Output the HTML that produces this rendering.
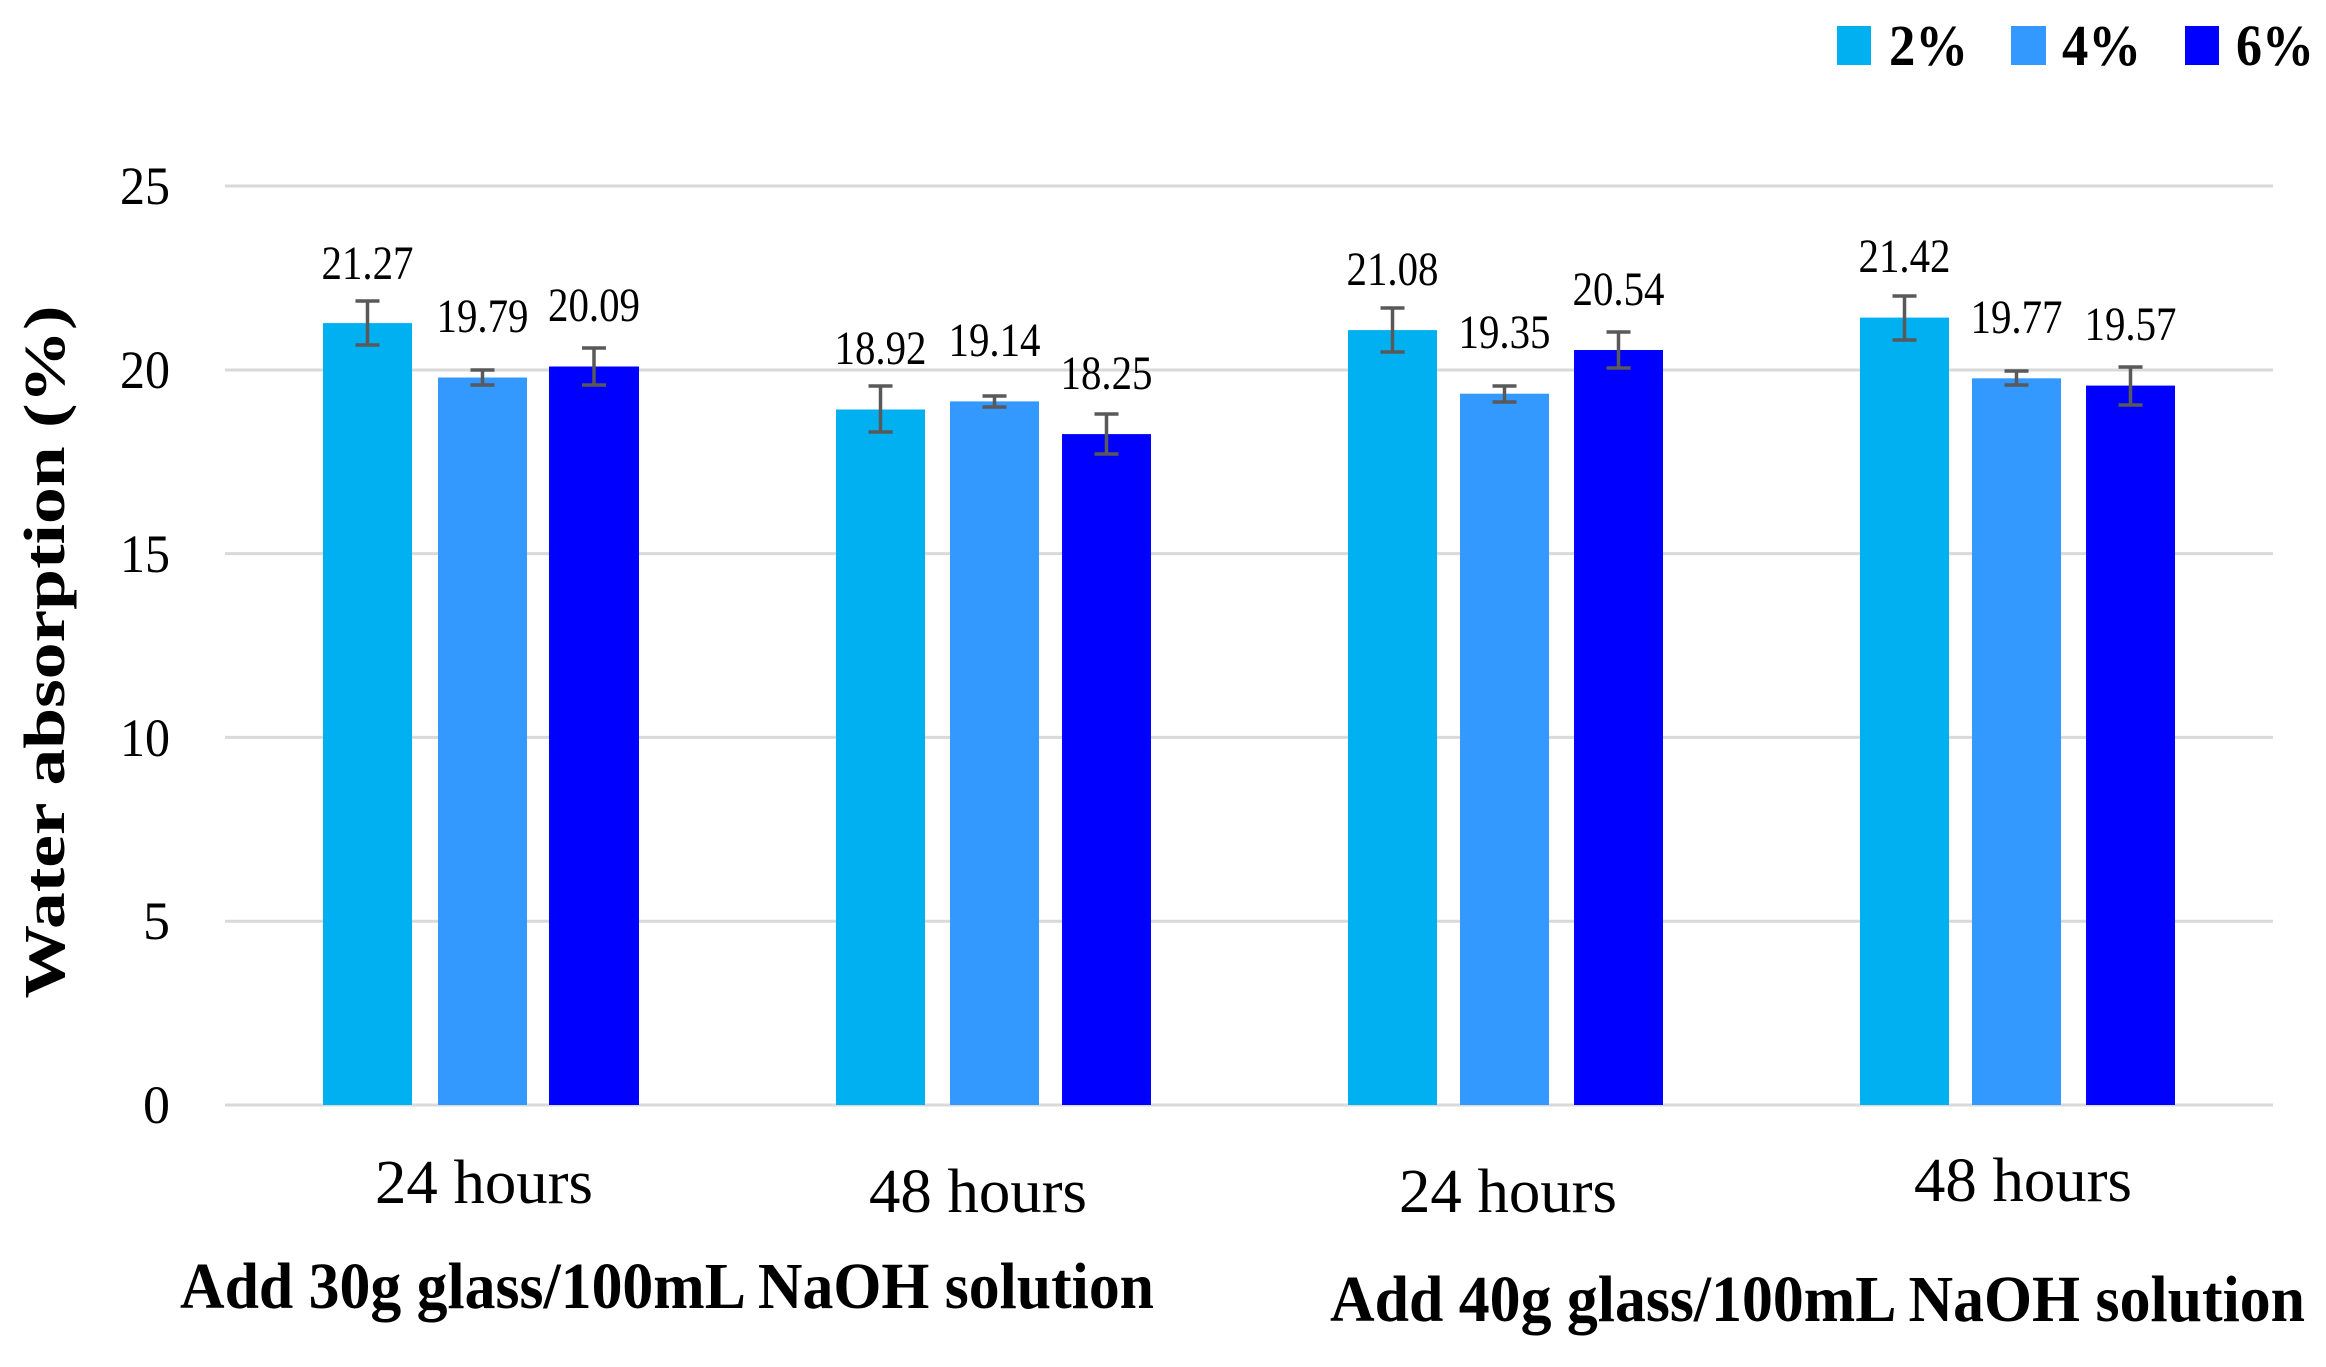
<!DOCTYPE html>
<html><head><meta charset="utf-8"><style>html,body{margin:0;padding:0;background:#fff}svg{display:block}</style></head>
<body>
<svg width="2326" height="1367" xmlns="http://www.w3.org/2000/svg" font-family="Liberation Serif, serif">
<g stroke="#d9d9d9" stroke-width="3">
<line x1="225" x2="2273" y1="186" y2="186"/>
<line x1="225" x2="2273" y1="370" y2="370"/>
<line x1="225" x2="2273" y1="553.6" y2="553.6"/>
<line x1="225" x2="2273" y1="737.4" y2="737.4"/>
<line x1="225" x2="2273" y1="921.2" y2="921.2"/>
<line x1="225" x2="2273" y1="1105" y2="1105"/>
</g>
<g font-size="54" fill="#000" text-anchor="end">
<text x="170" y="204" textLength="50" lengthAdjust="spacingAndGlyphs">25</text>
<text x="170" y="388" textLength="50" lengthAdjust="spacingAndGlyphs">20</text>
<text x="170" y="572" textLength="50" lengthAdjust="spacingAndGlyphs">15</text>
<text x="170" y="756" textLength="50" lengthAdjust="spacingAndGlyphs">10</text>
<text x="170" y="939">5</text>
<text x="170" y="1123">0</text>
</g>
<text transform="translate(64,652) rotate(-90)" text-anchor="middle" font-size="58" font-weight="bold" textLength="693" lengthAdjust="spacingAndGlyphs">Water  absorption (%)</text>
<g font-size="62" text-anchor="middle">
<text x="484" y="1203" textLength="218" lengthAdjust="spacingAndGlyphs">24 hours</text>
<text x="978" y="1212" textLength="218" lengthAdjust="spacingAndGlyphs">48 hours</text>
<text x="1508" y="1212" textLength="218" lengthAdjust="spacingAndGlyphs">24 hours</text>
<text x="2023" y="1201" textLength="218" lengthAdjust="spacingAndGlyphs">48 hours</text>
</g>
<g font-size="66" font-weight="bold">
<text x="180" y="1308" textLength="974" lengthAdjust="spacingAndGlyphs">Add 30g glass/100mL NaOH solution</text>
<text x="1330" y="1321" textLength="975" lengthAdjust="spacingAndGlyphs">Add 40g glass/100mL NaOH solution</text>
</g>
<g font-size="58" font-weight="bold">
<rect x="1837" y="26" width="34" height="39" fill="#00b0f0"/>
<text x="1889" y="65" textLength="79" lengthAdjust="spacingAndGlyphs">2%</text>
<rect x="2011" y="26" width="35" height="39" fill="#3399ff"/>
<text x="2062" y="65" textLength="79" lengthAdjust="spacingAndGlyphs">4%</text>
<rect x="2185" y="26" width="34" height="39" fill="#0000ff"/>
<text x="2236" y="65" textLength="78" lengthAdjust="spacingAndGlyphs">6%</text>
</g>
<g>
<rect x="323" y="323.1" width="89" height="781.9" fill="#00b0f0"/>
<rect x="438" y="377.5" width="89" height="727.5" fill="#3399ff"/>
<rect x="549" y="366.5" width="90" height="738.5" fill="#0000ff"/>
<rect x="836" y="409.5" width="89" height="695.5" fill="#00b0f0"/>
<rect x="950" y="401.4" width="89" height="703.6" fill="#3399ff"/>
<rect x="1062" y="434.1" width="89" height="670.9" fill="#0000ff"/>
<rect x="1348" y="330.1" width="89" height="774.9" fill="#00b0f0"/>
<rect x="1460" y="393.7" width="89" height="711.3" fill="#3399ff"/>
<rect x="1574" y="350.0" width="89" height="755.0" fill="#0000ff"/>
<rect x="1860" y="317.6" width="89" height="787.4" fill="#00b0f0"/>
<rect x="1972" y="378.3" width="89" height="726.7" fill="#3399ff"/>
<rect x="2086" y="385.6" width="89" height="719.4" fill="#0000ff"/>
</g>
<g stroke="#595959" stroke-width="3.5" fill="none">
<path d="M367.5 301v44M355.5 301h24M355.5 345h24"/>
<path d="M482.5 370v15M470.5 370h24M470.5 385h24"/>
<path d="M594 348v37M582 348h24M582 385h24"/>
<path d="M880.5 386v46M868.5 386h24M868.5 432h24"/>
<path d="M994.5 396v11M982.5 396h24M982.5 407h24"/>
<path d="M1106.5 414v40M1094.5 414h24M1094.5 454h24"/>
<path d="M1392.5 308v44M1380.5 308h24M1380.5 352h24"/>
<path d="M1504.5 386v16M1492.5 386h24M1492.5 402h24"/>
<path d="M1618.5 332v36M1606.5 332h24M1606.5 368h24"/>
<path d="M1904.5 296v44M1892.5 296h24M1892.5 340h24"/>
<path d="M2016.5 371v14M2004.5 371h24M2004.5 385h24"/>
<path d="M2130.5 367v38M2118.5 367h24M2118.5 405h24"/>
</g>
<g font-size="48" text-anchor="middle" fill="#000">
<text x="367.5" y="279" textLength="92" lengthAdjust="spacingAndGlyphs">21.27</text>
<text x="482.5" y="332" textLength="92" lengthAdjust="spacingAndGlyphs">19.79</text>
<text x="594" y="321" textLength="92" lengthAdjust="spacingAndGlyphs">20.09</text>
<text x="880.5" y="364" textLength="92" lengthAdjust="spacingAndGlyphs">18.92</text>
<text x="994.5" y="356" textLength="92" lengthAdjust="spacingAndGlyphs">19.14</text>
<text x="1106.5" y="389" textLength="92" lengthAdjust="spacingAndGlyphs">18.25</text>
<text x="1392.5" y="285" textLength="92" lengthAdjust="spacingAndGlyphs">21.08</text>
<text x="1504.5" y="348" textLength="92" lengthAdjust="spacingAndGlyphs">19.35</text>
<text x="1618.5" y="305" textLength="92" lengthAdjust="spacingAndGlyphs">20.54</text>
<text x="1904.5" y="272" textLength="92" lengthAdjust="spacingAndGlyphs">21.42</text>
<text x="2016.5" y="333" textLength="92" lengthAdjust="spacingAndGlyphs">19.77</text>
<text x="2130.5" y="340" textLength="92" lengthAdjust="spacingAndGlyphs">19.57</text>
</g>
</svg>
</body></html>
